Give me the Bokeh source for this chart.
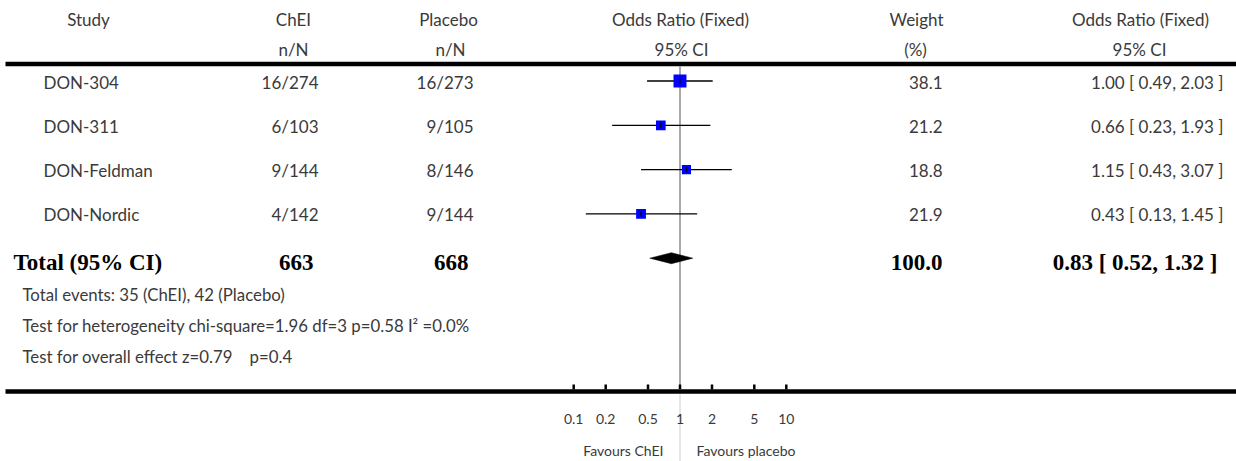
import math
from bokeh.plotting import figure
from bokeh.models import Range1d, LogScale
from bokeh.core.properties import value
from bokeh.embed import file_html
from bokeh.resources import INLINE

# ---------------- data ----------------
studies = ["DON-304", "DON-311", "DON-Feldman", "DON-Nordic"]
chei_events = [16, 6, 9, 4]
chei_totals = [274, 103, 144, 142]
placebo_events = [16, 9, 8, 9]
placebo_totals = [273, 105, 146, 144]
odds_ratio = [1.00, 0.66, 1.15, 0.43]
ci_low = [0.49, 0.23, 0.43, 0.13]
ci_high = [2.03, 1.93, 3.07, 1.45]
weights = [38.1, 21.2, 18.8, 21.9]

total_chei = 663
total_placebo = 668
total_weight = 100.0
total_or = 0.83
total_low = 0.52
total_high = 1.32

events_chei = 35
events_placebo = 42
chi_square = 1.96
dof = 3
p_het = 0.58
i_square = 0.0
z_overall = 0.79
p_overall = 0.4

axis_ticks = [0.1, 0.2, 0.5, 1, 2, 5, 10]
axis_tick_labels = ["0.1", "0.2", "0.5", "1", "2", "5", "10"]
null_value = 1.0

# ---------------- layout ----------------
FONT = "Lato"
BOLD = "Liberation Serif"
GREY = "#3a3a3a"
W, H = 1236, 461
X0, X1 = 0, 1236
Y0, Y1 = 0, 461
PX_ONE = 679.5
PX_DECADE = 106.3

row_top = 80.5
row_step = 44.3
row_y = [row_top + i * row_step for i in range(len(studies))]
total_y = row_top + len(studies) * row_step

p = figure(width=W, height=H, x_range=Range1d(X0, X1), y_range=Range1d(Y1, Y0),
           x_axis_type=None, y_axis_type=None, toolbar_location=None,
           output_backend="svg", min_border=0, outline_line_color=None,
           background_fill_color="white", border_fill_color="white")
p.extra_x_ranges = {"or": Range1d(10 ** ((X0 - PX_ONE) / PX_DECADE),
                                  10 ** ((X1 - PX_ONE) / PX_DECADE))}
p.extra_x_scales = {"or": LogScale()}


def txt(x, y, t, size="17px", align="left", font=FONT, color=GREY, style="normal", **kw):
    p.text(x=x, y=y, text=t, text_font=value(font), text_font_size=size,
           text_align=align, text_baseline="middle", text_color=color,
           text_font_style=style, **kw)


# header
txt([88], [18.5], ["Study"], align="center")
txt([293, 293], [18.5, 48.5], ["ChEI", "n/N"], align="center")
txt([448, 450], [18.5, 48.5], ["Placebo", "n/N"], align="center")
txt([680, 681], [18.5, 48.5], ["Odds Ratio (Fixed)", "95% CI"], align="center")
txt([916, 915], [18.5, 48.5], ["Weight", "(%)"], align="center")
txt([1140, 1139], [18.5, 48.5], ["Odds Ratio (Fixed)", "95% CI"], align="center")

# heavy rules
p.segment(x0=[5, 5], x1=[1236, 1236], y0=[63.5, 391], y1=[63.5, 391],
          line_color="black", line_width=4.5)

# reference line at OR = 1
p.segment(x0=[null_value], x1=[null_value], y0=[66], y1=[389], x_range_name="or",
          line_color="#8c8c8c", line_width=1.5)
p.segment(x0=[null_value], x1=[null_value], y0=[393.5], y1=[Y1], x_range_name="or",
          line_color="#dedede", line_width=1.5)

# study rows
ty = [y + 1 for y in row_y]
txt([43] * len(studies), ty, studies)
txt([318] * len(studies), ty, [f"{e}/{n}" for e, n in zip(chei_events, chei_totals)], align="right")
txt([473] * len(studies), ty, [f"{e}/{n}" for e, n in zip(placebo_events, placebo_totals)], align="right")
txt([942] * len(studies), ty, [f"{w:.1f}" for w in weights], align="right")
txt([1223] * len(studies), ty,
    [f"{o:.2f} [ {l:.2f}, {h:.2f} ]" for o, l, h in zip(odds_ratio, ci_low, ci_high)], align="right")

p.segment(x0=ci_low, x1=ci_high, y0=row_y, y1=row_y, x_range_name="or",
          line_color="black", line_width=1.3)
p.scatter(x=odds_ratio, y=row_y, size=[2.1 * math.sqrt(w) for w in weights],
          marker="square", fill_color="#0000ff", line_color=None, x_range_name="or")
p.scatter(x=odds_ratio, y=row_y, size=5, marker="dash", angle=math.pi / 2,
          line_color="black", line_width=1.3, x_range_name="or")

# total row
tt = total_y + 4.5
txt([13], [tt], ["Total (95% CI)"], size="23px", font=BOLD, color="black", style="bold")
txt([313], [tt], [str(total_chei)], size="23px", font=BOLD, color="black", style="bold", align="right")
txt([468], [tt], [str(total_placebo)], size="23px", font=BOLD, color="black", style="bold", align="right")
txt([942], [tt], [f"{total_weight:.1f}"], size="23px", font=BOLD, color="black", style="bold", align="right")
txt([1217], [tt], [f"{total_or:.2f} [ {total_low:.2f}, {total_high:.2f} ]"], size="23px",
    font=BOLD, color="black", style="bold", align="right")
p.patch(x=[total_low, total_or, total_high, total_or],
        y=[total_y, total_y - 5.5, total_y, total_y + 5.5],
        x_range_name="or", fill_color="black", line_color="black", line_width=0.5)

# footnotes
gap = "\u00a0" * 4
txt([22, 22, 22], [293.5, 325, 355.5], [
    f"Total events: {events_chei} (ChEI), {events_placebo} (Placebo)",
    f"Test for heterogeneity chi-square={chi_square:.2f} df={dof} p={p_het:.2f} I\u00b2 ={i_square:.1f}%",
    f"Test for overall effect z={z_overall:.2f}{gap}p={p_overall}",
], size="16.8px")

# axis
p.segment(x0=axis_ticks, x1=axis_ticks, y0=[389] * len(axis_ticks), y1=[384] * len(axis_ticks),
          x_range_name="or", line_color="black", line_width=2.5)
txt(axis_ticks, [418.5] * len(axis_ticks), axis_tick_labels, size="14px", align="center",
    x_range_name="or")
txt([663], [449.5], ["Favours ChEI"], size="14px", align="right")
txt([696], [449.5], ["Favours placebo"], size="14px", align="left")

open("out.html", "w").write(file_html(p, INLINE))
